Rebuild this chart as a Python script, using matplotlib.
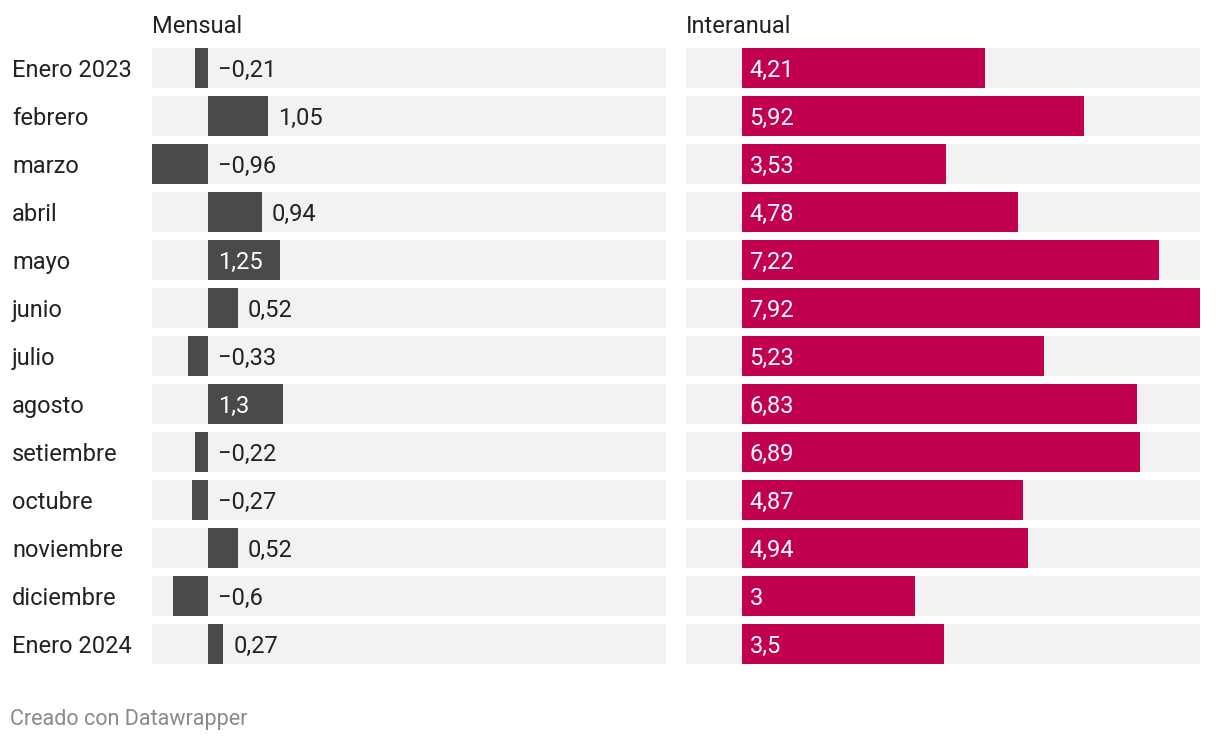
import matplotlib.pyplot as plt

plt.rcParams['font.family'] = ['Roboto', 'DejaVu Sans']

meses = ['Enero 2023', 'febrero', 'marzo', 'abril', 'mayo', 'junio', 'julio',
         'agosto', 'setiembre', 'octubre', 'noviembre', 'diciembre', 'Enero 2024']
mensual = [-0.21, 1.05, -0.96, 0.94, 1.25, 0.52, -0.33, 1.3, -0.22, -0.27, 0.52, -0.6, 0.27]
interanual = [4.21, 5.92, 3.53, 4.78, 7.22, 7.92, 5.23, 6.83, 6.89, 4.87, 4.94, 3.0, 3.5]
titulos = ['Mensual', 'Interanual']

xmin, xmax = -0.96, 7.92
W, H = 1220, 740
fs = 17


def fmt(v):
    s = ('%g' % v).replace('.', ',')
    return s.replace('-', '\u2212')


fig = plt.figure(figsize=(W / 100, H / 100), dpi=100)
bh = 40 / 48
n = len(meses)

panels = [(152, mensual, '#4a4a4a'), (686, interanual, '#c20050')]
for k, (x0, vals, color) in enumerate(panels):
    ax = fig.add_axes([x0 / W, (H - 664) / H, 514 / W, 616 / H])
    ax.set_xlim(xmin, xmax)
    ax.set_ylim(n - 1 + bh / 2, -bh / 2)
    ax.axis('off')
    ys = range(n)
    ax.barh(ys, [xmax - xmin] * n, left=xmin, height=bh, color='#f2f2f2')
    ax.barh(ys, vals, height=bh, color=color)
    pad = 10 * (xmax - xmin) / 514
    for i, v in enumerate(vals):
        if k == 1:
            ax.text(pad * 0.8, i, fmt(v), color='white', va='center_baseline', fontsize=fs)
        elif v < 0:
            ax.text(pad, i, fmt(v), color='#222222', va='center_baseline', fontsize=fs)
        elif v > 1.1:
            ax.text(pad, i, fmt(v), color='white', va='center_baseline', fontsize=fs)
        else:
            ax.text(v + pad, i, fmt(v), color='#222222', va='center_baseline', fontsize=fs)
    fig.text(x0 / W, 1 - 24 / H, titulos[k], color='#222222', fontsize=fs, va='center_baseline')

for i, m in enumerate(meses):
    fig.text(12 / W, 1 - (68 + 48 * i) / H, m, color='#222222', fontsize=fs, va='center_baseline')

fig.text(10 / W, 1 - 717 / H, 'Creado con Datawrapper', color='#8a8a8a', fontsize=15.5,
         va='center_baseline')

fig.savefig('out.png', dpi=100)
